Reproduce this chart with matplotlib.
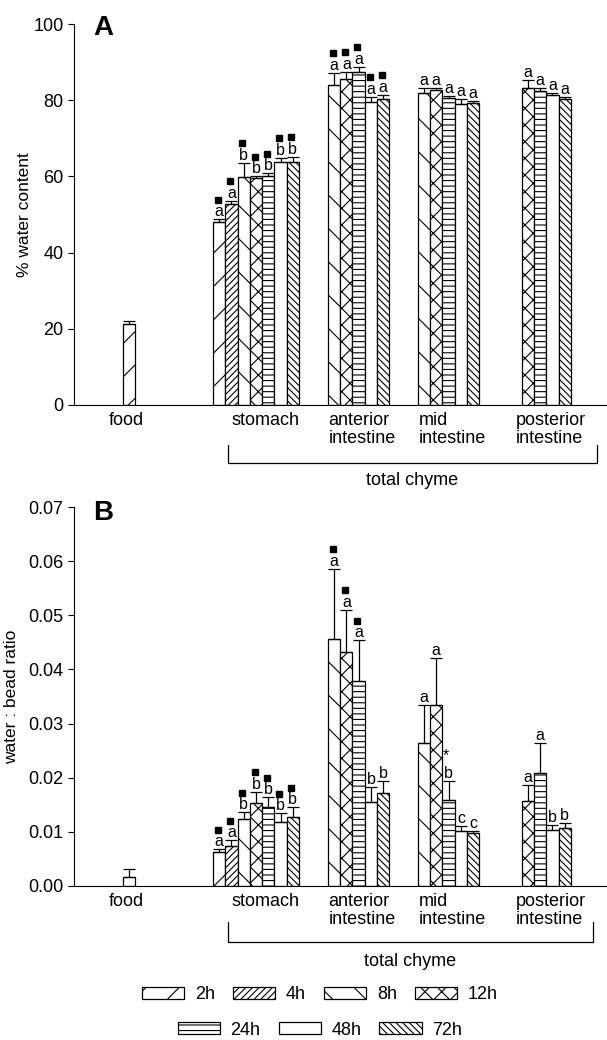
import matplotlib
matplotlib.use('Agg')
import matplotlib.pyplot as plt
import matplotlib.patches as mpatches
import matplotlib.transforms as mtrans
import numpy as np

plt.rcParams['font.family'] = ['Liberation Sans', 'DejaVu Sans']
plt.rcParams['font.size'] = 13
plt.rcParams['hatch.linewidth'] = 0.8

times = ['2h', '4h', '8h', '12h', '24h', '48h', '72h']
hatches = ['/', '/////', '\\', 'xx', '---', '', '\\\\\\\\\\']

groups = ['food', 'stomach', 'anterior\nintestine', 'mid\nintestine', 'posterior\nintestine']
# which time points exist in each group (index into times)
group_times = [[0], [0, 1, 2, 3, 4, 5, 6], [2, 3, 4, 5, 6], [2, 3, 4, 5, 6], [3, 4, 5, 6]]

# panel A: % water content
water_food = [21.2]
water_food_err = [0.8]
water_stomach = [48.1, 52.7, 59.9, 59.7, 60.0, 63.7, 63.7]
water_stomach_err = [0.7, 0.9, 3.7, 0.4, 0.8, 1.2, 1.5]
water_ant = [84.0, 85.5, 87.3, 79.6, 80.3]
water_ant_err = [3.2, 2.0, 1.5, 1.3, 1.1]
water_mid = [82.0, 82.6, 80.7, 79.0, 79.4]
water_mid_err = [1.3, 0.7, 0.3, 1.3, 0.4]
water_post = [83.1, 82.4, 81.4, 80.3]
water_post_err = [2.2, 0.8, 0.4, 0.5]

# panel B: water : bead ratio
ratio_food = [0.0016]
ratio_food_err = [0.0016]
ratio_stomach = [0.0062, 0.0074, 0.0123, 0.0153, 0.0145, 0.0118, 0.0128]
ratio_stomach_err = [0.0006, 0.0010, 0.0013, 0.0021, 0.0019, 0.0016, 0.0017]
ratio_ant = [0.0456, 0.0432, 0.0379, 0.0155, 0.0171]
ratio_ant_err = [0.0130, 0.0078, 0.0075, 0.0027, 0.0023]
ratio_mid = [0.0265, 0.0334, 0.0158, 0.0102, 0.0097]
ratio_mid_err = [0.0069, 0.0088, 0.0036, 0.0009, 0.0005]
ratio_post = [0.0157, 0.0208, 0.0103, 0.0107]
ratio_post_err = [0.0030, 0.0057, 0.0010, 0.0010]

# significance letters and markers ('s' = filled square, '*' = star)
letters_A = [[''], list('aabbbbb'), list('aaaaa'), list('aaaaa'), list('aaaa')]
marks_A = [[''], ['s'] * 7, ['s'] * 5, [''] * 5, [''] * 4]
letters_B = [[''], list('aabbbbb'), list('aaabb'), list('aabcc'), list('aabb')]
marks_B = [[''], ['s'] * 7, ['s', 's', 's', '', ''], ['', '', '*', '', ''], [''] * 4]

# layout in bar-width units
group_start = [3.96, 11.3, 20.65, 27.97, 36.42]
label_pos = [4.23, 15.6, 23.45, 30.8, 38.8]
xmax = 43.25


def draw_panel(ax, vals, errs, letters, marks):
    sq_shift = mtrans.ScaledTranslation(-1 / 72, 14 / 72, ax.figure.dpi_scale_trans)
    for g, ts in enumerate(group_times):
        for k, t in enumerate(ts):
            x = group_start[g] + k + 0.5
            ax.bar(x, vals[g][k], width=1.0, color='white', edgecolor='black',
                   hatch=hatches[t], linewidth=0.9, zorder=2)
            ax.errorbar(x, vals[g][k], yerr=[[0], [errs[g][k]]], fmt='none',
                        ecolor='black', elinewidth=0.9, capsize=4.2, capthick=0.9, zorder=3)
            top = vals[g][k] + errs[g][k]
            if letters[g][k]:
                ax.annotate(letters[g][k], (x, top), xytext=(0, 0), textcoords='offset points',
                            ha='center', va='bottom', fontsize=11.5)
            if marks[g][k] == 's':
                ax.plot([x], [top], marker='s', color='black', markersize=4, linestyle='none',
                        transform=ax.transData + sq_shift, clip_on=False)
            elif marks[g][k] == '*':
                ax.annotate('*', (x, top), xytext=(-2, 13), textcoords='offset points',
                            ha='center', va='bottom', fontsize=11.5)
    ax.set_xlim(0, xmax)
    ax.spines['top'].set_visible(False)
    ax.spines['right'].set_visible(False)
    ax.set_xticks(label_pos)
    ax.set_xticklabels(groups, multialignment='left', linespacing=1.05)
    ax.tick_params(axis='x', length=0, pad=5)
    ax.tick_params(axis='y', direction='out', length=4)


def draw_bracket(ax, x0, x1, y_top, y_bot, y_text):
    tr = mtrans.blended_transform_factory(ax.transData, ax.transAxes)
    ax.plot([x0, x0, x1, x1], [y_top, y_bot, y_bot, y_top], color='black', lw=0.9,
            transform=tr, clip_on=False)
    ax.text((x0 + x1) / 2, y_text, 'total chyme', transform=tr, ha='center', va='center')


fig = plt.figure(figsize=[6.07, 10.4], dpi=100)
axA = fig.add_axes([0.1219, 0.6106, 0.876, 0.3663])
axB = fig.add_axes([0.1219, 0.1481, 0.876, 0.3644])

valsA = [water_food, water_stomach, water_ant, water_mid, water_post]
errsA = [water_food_err, water_stomach_err, water_ant_err, water_mid_err, water_post_err]
draw_panel(axA, valsA, errsA, letters_A, marks_A)
axA.set_ylim(0, 100)
axA.set_yticks([0, 20, 40, 60, 80, 100])
axA.set_ylabel('% water content', fontsize=12.5)
axA.yaxis.set_label_coords(-0.0795, 0.5)
draw_bracket(axA, 12.5, 42.5, -0.105, -0.152, -0.197)

valsB = [ratio_food, ratio_stomach, ratio_ant, ratio_mid, ratio_post]
errsB = [ratio_food_err, ratio_stomach_err, ratio_ant_err, ratio_mid_err, ratio_post_err]
draw_panel(axB, valsB, errsB, letters_B, marks_B)
axB.set_ylim(0, 0.07)
axB.set_yticks(np.arange(0, 0.071, 0.01))
axB.yaxis.set_major_formatter(matplotlib.ticker.FormatStrFormatter('%.2f'))
axB.set_ylabel('water : bead ratio', fontsize=12.5)
axB.yaxis.set_label_coords(-0.1034, 0.5)
draw_bracket(axB, 12.5, 42.2, -0.095, -0.148, -0.198)

fig.text(93 / 607, 1 - 35 / 1040, 'A', fontsize=20, fontweight='bold')
fig.text(93 / 607, 1 - 520 / 1040, 'B', fontsize=20, fontweight='bold')

handles = [mpatches.Patch(facecolor='white', edgecolor='black', hatch=h, linewidth=0.9) for h in hatches]
leg_kw = dict(loc='center', frameon=False, handlelength=2.33, handleheight=0.61,
              handletextpad=0.6, columnspacing=1.0, fontsize=13)
fig.legend(handles[:4], times[:4], bbox_to_anchor=(0.527, 0.0433), ncol=4, **leg_kw)
fig.legend(handles[4:], times[4:], bbox_to_anchor=(0.527, 0.0096), ncol=3, **leg_kw)

fig.savefig('out.png', dpi=100)
